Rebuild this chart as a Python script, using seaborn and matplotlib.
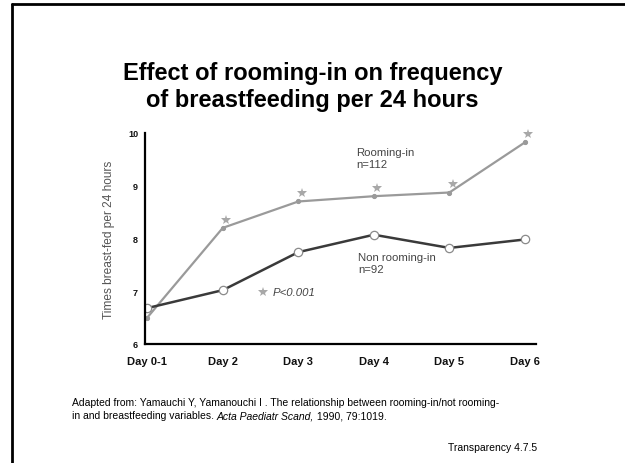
import numpy as np
import pandas as pd
import matplotlib
matplotlib.use("Agg")
import matplotlib.pyplot as plt
import matplotlib.transforms as mtransforms
from matplotlib.lines import Line2D
import seaborn as sns

# данные
days = ["Day 0-1", "Day 2", "Day 3", "Day 4", "Day 5", "Day 6"]
rooming_in = [6.50, 8.20, 8.70, 8.80, 8.87, 9.82]
non_rooming_in = [6.68, 7.02, 7.74, 8.07, 7.82, 7.98]
significant = [False, True, True, True, True, True]  # звёздочки P<0.001
y_ticks = [6, 7, 8, 9, 10]

pos = np.arange(len(days))
df = pd.DataFrame({
    "pos": np.concatenate([pos, pos]),
    "value": rooming_in + non_rooming_in,
    "group": ["Rooming-in"] * len(days) + ["Non rooming-in"] * len(days),
})

sns.set_style("white")
plt.rcParams["font.family"] = ["Liberation Sans", "DejaVu Sans"]

fig = plt.figure(figsize=(6.25, 4.64), dpi=100)
ax = fig.add_axes([0.232, 0.2565, 0.626, 0.455])

# линия rooming-in (светло-серая)
sns.lineplot(data=df[df["group"] == "Rooming-in"], x="pos", y="value", ax=ax,
             color="#9a9a9a", linewidth=1.6, marker="o", markersize=3,
             markeredgecolor="#9a9a9a", markerfacecolor="#9a9a9a")
# линия non rooming-in (тёмная, пустые кружки)
sns.lineplot(data=df[df["group"] == "Non rooming-in"], x="pos", y="value", ax=ax,
             color="#3a3a3a", linewidth=1.8, marker="o", markersize=6,
             markeredgecolor="#8a8a8a", markerfacecolor="white",
             markeredgewidth=0.9)

# звёздочки чуть выше и правее точек
star_tr = mtransforms.offset_copy(ax.transData, fig=fig, x=2.5, y=6, units="points")
sx = [p for p, s in zip(pos, significant) if s]
sy = [v for v, s in zip(rooming_in, significant) if s]
ax.plot(sx, sy, linestyle="none", marker="*", markersize=7.5, color="#a8a8a8",
        markeredgewidth=0, transform=star_tr, clip_on=False)

ax.set_xlim(-0.03, 5.15)
ax.set_ylim(6, 10)
ax.set_xticks(pos)
ax.set_xticklabels(days, fontsize=8, fontweight="bold", color="#111111")
ax.set_yticks(y_ticks)
ax.set_yticklabels([str(t) for t in y_ticks], fontsize=6.5, fontweight="bold",
                   color="#111111")
ax.tick_params(axis="both", length=0)
ax.tick_params(axis="x", pad=9)
ax.tick_params(axis="y", pad=5)
ax.set_xlabel("")
ax.set_ylabel("Times breast-fed per 24 hours", fontsize=8.6, color="#555555",
              labelpad=9)
if ax.get_legend() is not None:
    ax.get_legend().remove()

for side in ["top", "right"]:
    ax.spines[side].set_visible(False)
for side in ["left", "bottom"]:
    ax.spines[side].set_color("black")
    ax.spines[side].set_linewidth(1.6)

# подписи серий
ax.text(2.77, 9.74, "Rooming-in\nn=112", fontsize=8.2, color="#444444",
        va="top", ha="left", linespacing=1.35)
ax.text(2.79, 7.75, "Non rooming-in\nn=92", fontsize=8.2, color="#444444",
        va="top", ha="left", linespacing=1.35)
ax.plot([1.53], [6.98], marker="*", markersize=7.5, color="#a8a8a8",
        markeredgewidth=0)
ax.text(1.66, 6.98, "P<0.001", fontsize=8.2, style="italic", color="#444444",
        va="center", ha="left")

# заголовок
fig.text(0.5, 0.8125, "Effect of rooming-in on frequency\nof breastfeeding per 24 hours",
         ha="center", va="center", fontsize=17, fontweight="bold",
         linespacing=1.2, color="black")

# источник и номер (курсив отдельным куском текста)
fs = 7.5
x0, y1, y2 = 0.115, 0.131, 0.103
fig.text(x0, y1, "Adapted from: Yamauchi Y, Yamanouchi I . The relationship between "
         "rooming-in/not rooming-", ha="left", va="center", fontsize=fs, color="black")
t = fig.text(x0, y2, "in and breastfeeding variables. ", ha="left", va="center",
             fontsize=fs, color="black")
fig.canvas.draw()
x1 = t.get_window_extent().x1 / fig.bbox.width
t2 = fig.text(x1, y2, "Acta Paediatr Scand,", ha="left", va="center",
              fontsize=fs, style="italic", color="black")
fig.canvas.draw()
x2 = t2.get_window_extent().x1 / fig.bbox.width
fig.text(x2, y2, " 1990, 79:1019.", ha="left", va="center", fontsize=fs, color="black")
fig.text(0.86, 0.035, "Transparency 4.7.5", ha="right", va="center", fontsize=fs,
         color="black")

# рамка слайда (слева и сверху)
fig.add_artist(Line2D([0.019, 0.019], [0.0, 0.989], color="black", linewidth=2,
                      transform=fig.transFigure))
fig.add_artist(Line2D([0.019, 1.0], [0.989, 0.989], color="black", linewidth=2,
                      transform=fig.transFigure))

fig.savefig("out.png", dpi=100)
